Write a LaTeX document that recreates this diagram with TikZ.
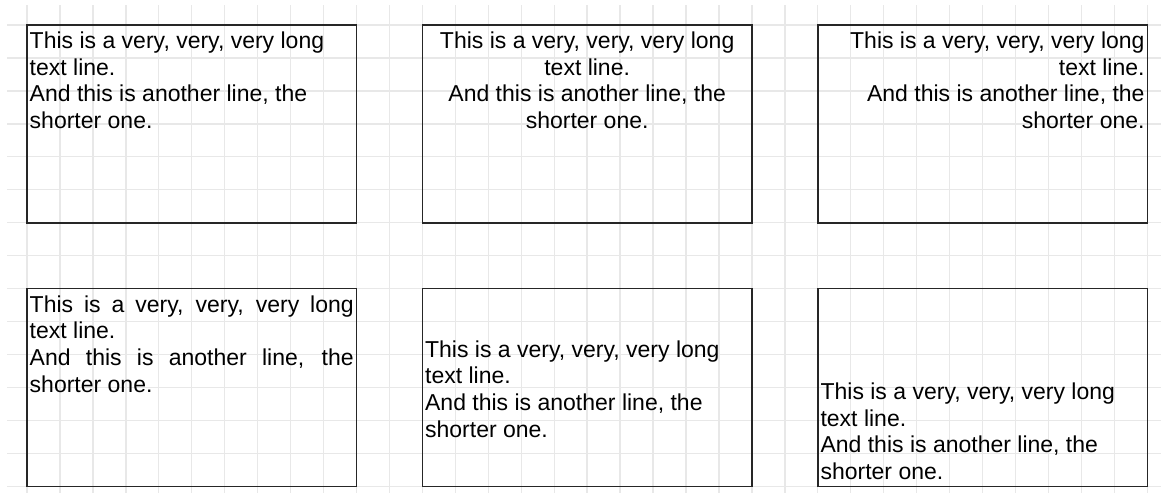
\documentclass[tikz,border=0pt]{standalone}
\usepackage{fontspec}
\setmainfont{Liberation Sans}
\usepackage{tikz}
\usetikzlibrary{positioning}
\setlength{\parindent}{0pt}

\newcommand{\twolines}{This is a very, very, very long\linebreak text line.\par
And this is another line, the\linebreak shorter one.}

\begin{document}
\begin{tikzpicture}[x=24.7125pt,y=24.7125pt,
  frame/.style={draw=black!85, line width=1.2pt, minimum width=247.125pt, minimum height=148.275pt, inner sep=0pt, outer sep=0pt, anchor=north west},
  words/.style={text width=243pt, inner sep=0pt, font=\fontsize{17.25pt}{20pt}\selectfont}]
\useasboundingbox (-0.8194,-14.2033) rectangle (34.4158,0.7587);
\draw[line width=1pt, black!9, step=24.7125pt] (-0.607,-14.2033) grid (34.4158,0.607);
% top row
\node[frame] (topleft) at (0,0) {};
\node[frame] (topmid) at (12,0) {};
\node[frame] (topright) at (24,0) {};
% bottom row
\node[frame] (botleft) at (0,-8) {};
\node[frame] (botmid) at (12,-8) {};
\node[frame] (botright) at (24,-8) {};
\node[words, align=flush left, below=4.9pt of topleft.north] (txtleft) {\twolines};
\node[words, align=flush center, below=4.9pt of topmid.north] (txtcenter) {\twolines};
\node[words, align=flush right, below=4.9pt of topright.north] (txtright) {\twolines};
\node[words, align=justify, below=4.9pt of botleft.north] (txtjustify) {\twolines};
\node[words, align=flush left] (txtmiddle) at ([yshift=-1pt]botmid.center) {\twolines};
\node[words, align=flush left, above=4.7pt of botright.south] (txtbottom) {\twolines};
\end{tikzpicture}
\end{document}
